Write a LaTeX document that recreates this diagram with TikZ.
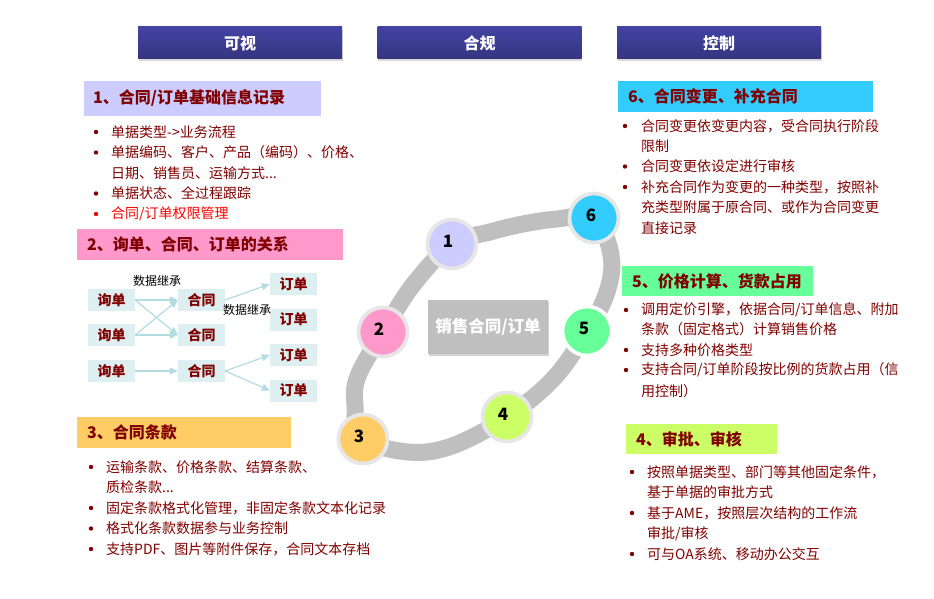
\documentclass[tikz,border=0pt]{standalone}
\usepackage{fontspec}
\setmainfont{Noto Sans CJK SC}
\usetikzlibrary{arrows.meta,shadows}
\definecolor{maroon}{HTML}{800000}
\definecolor{redtxt}{HTML}{FF0000}
\definecolor{hdrtop}{HTML}{4343A3}
\definecolor{hdrbot}{HTML}{35357F}
\definecolor{c1}{HTML}{CCCCFF}
\definecolor{c2}{HTML}{FF99CC}
\definecolor{c3}{HTML}{FFCC66}
\definecolor{c4}{HTML}{CCFF66}
\definecolor{c5}{HTML}{66FF99}
\definecolor{c6}{HTML}{33CCFF}
\definecolor{ringc}{HTML}{BFBFBF}
\definecolor{cborder}{HTML}{E6E6E6}
\definecolor{mfill}{HTML}{DDEFF1}
\definecolor{marrc}{HTML}{B3DCE2}
\tikzset{
  hdr/.style={rectangle, minimum width=204pt, minimum height=32pt, inner sep=0pt,
    top color=hdrtop, bottom color=hdrbot, text=white,
    font=\fontsize{16}{16}\selectfont\bfseries,
    drop shadow={shadow xshift=0.6pt, shadow yshift=-1.8pt, opacity=0.3}},
  tbox/.style={rectangle, inner sep=0pt},
  ttxt/.style={anchor=west, inner sep=0pt, text=maroon, font=\fontsize{16}{16}\selectfont\bfseries},
  btxt/.style={anchor=west, inner sep=0pt, text=maroon, font=\fontsize{14}{14}\selectfont},
  mbox/.style={rectangle, fill=mfill, minimum width=47pt, minimum height=22pt, inner sep=0pt,
    text=maroon, font=\fontsize{14}{14}\selectfont\bfseries},
  mlab/.style={inner sep=0pt, text=black, font=\fontsize{12}{12}\selectfont},
  marr/.style={draw=marrc, line width=1.2pt, -{Triangle[length=8pt,width=7pt]}},
  ring/.style={draw=ringc, line width=17pt},
  numc/.style={circle, minimum size=49pt, inner sep=0pt, line width=3.7pt, draw=cborder},
  numt/.style={inner sep=0pt, font=\fontsize{17}{17}\selectfont\bfseries, text=black},
  cbox/.style={rectangle, fill=ringc, minimum width=120pt, minimum height=54pt, inner sep=0pt,
    text=white, font=\fontsize{16.5}{16.5}\selectfont\bfseries,
    drop shadow={shadow xshift=1pt, shadow yshift=-2pt, opacity=0.35}},
  bdot/.style={fill=maroon},
}
\begin{document}
\begin{tikzpicture}[x=1pt,y=-1pt]
\useasboundingbox (0,0) rectangle (934,599);
\fill[white] (0,0) rectangle (934,599);

% headers
\node[hdr] (h1) at (240,43) {可视};
\node[hdr] (h2) at (479.5,43) {合规};
\node[hdr] (h3) at (719,43) {控制};

% ring
\draw[ring] plot[smooth cycle, tension=0.6] coordinates {
  (362,438) (355,405) (358,376) (383,332) (413,285) (452,244)
  (490,232) (523,224) (557,219) (594,218) (611,255) (607,292)
  (587,331) (554,378) (507,417) (452,446) (408,452)};

% centre box
\node[cbox] (ctr) at (488,327) {销售合同/订单};

% numbered circles
\node[numc, fill=c1] (k1) at (452,244) {};
\node[numc, fill=c2] (k2) at (383,332) {};
\node[numc, fill=c3] (k3) at (363,439) {};
\node[numc, fill=c4] (k4) at (507,417) {};
\node[numc, fill=c5, draw=white] (k5) at (587,331) {};
\node[numc, fill=c6] (k6) at (594,218) {};
\node[numt] (t1) at (448,241) {1};
\node[numt] (t2) at (379,329) {2};
\node[numt] (t3) at (359,436) {3};
\node[numt] (t4) at (503,414) {4};
\node[numt] (t5) at (584,328) {5};
\node[numt] (t6) at (591,215) {6};

% ---------- section 1
\node[tbox, fill=c1, minimum width=237pt, minimum height=35pt] (s1) at (202.5,98.5) {};
\node[ttxt] (s1t) at (93,98.5) {1、合同/订单基础信息记录};
\fill[bdot] (96,132) circle (2.2pt);
\node[btxt] (s1a) at (111,132) {单据类型->业务流程};
\fill[bdot] (96,152.5) circle (2.2pt);
\node[btxt] (s1b) at (111,152.5) {单据编码、客户、产品（编码）、价格、};
\node[btxt] (s1c) at (111,173) {日期、销售员、运输方式...};
\fill[bdot] (96,193.5) circle (2.2pt);
\node[btxt] (s1d) at (111,193.5) {单据状态、全过程跟踪};
\fill[redtxt] (96,214) circle (2.2pt);
\node[btxt, text=redtxt] (s1e) at (111,214) {合同/订单权限管理};

% ---------- section 2
\node[tbox, fill=c2, minimum width=266pt, minimum height=31pt] (s2) at (210,244.5) {};
\node[ttxt] (s2t) at (87,244.5) {2、询单、合同、订单的关系};

\node[mbox] (x1) at (111.5,300) {询单};
\node[mbox] (x2) at (111.5,335) {询单};
\node[mbox] (x3) at (111.5,371) {询单};
\node[mbox] (g1) at (201.5,300) {合同};
\node[mbox] (g2) at (201.5,335) {合同};
\node[mbox] (g3) at (201.5,371) {合同};
\node[mbox] (d1) at (293.5,284) {订单};
\node[mbox] (d2) at (293.5,319.5) {订单};
\node[mbox] (d3) at (293.5,355) {订单};
\node[mbox] (d4) at (293.5,390.5) {订单};
\draw[marr] (x1.east) -- (g1.west);
\draw[marr] (x1.east) -- (g2.west);
\draw[marr] (x2.east) -- (g1.west);
\draw[marr] (x2.east) -- (g2.west);
\draw[marr] (x3.east) -- (g3.west);
\draw[marr] (g1.east) -- (d1.west);
\draw[marr] (g3.east) -- (d3.west);
\draw[marr] (g3.east) -- (d4.west);
\node[mlab] (lab1) at (157,281) {数据继承};
\node[mlab] (lab2) at (247,310) {数据继承};

% ---------- section 3
\node[tbox, fill=c3, minimum width=214pt, minimum height=31pt] (s3) at (184,432.5) {};
\node[ttxt] (s3t) at (87,432.5) {3、合同条款};
\fill[bdot] (91,467) circle (2.2pt);
\node[btxt] (s3a) at (106,467) {运输条款、价格条款、结算条款、};
\node[btxt] (s3b) at (106,487.5) {质检条款...};
\fill[bdot] (91,508) circle (2.2pt);
\node[btxt] (s3c) at (106,508) {固定条款格式化管理，非固定条款文本化记录};
\fill[bdot] (91,528.5) circle (2.2pt);
\node[btxt] (s3d) at (106,528.5) {格式化条款数据参与业务控制};
\fill[bdot] (91,549) circle (2.2pt);
\node[btxt] (s3e) at (106,549) {支持PDF、图片等附件保存，合同文本存档};

% ---------- section 6
\node[tbox, fill=c6, minimum width=255pt, minimum height=31pt] (s6) at (745.5,96.5) {};
\node[ttxt] (s6t) at (628,96.5) {6、合同变更、补充合同};
\fill[bdot] (625,126) circle (2.2pt);
\node[btxt] (s6a) at (641,126) {合同变更依变更内容，受合同执行阶段};
\node[btxt] (s6b) at (641,146) {限制};
\fill[bdot] (625,166.5) circle (2.2pt);
\node[btxt] (s6c) at (641,166.5) {合同变更依设定进行审核};
\fill[bdot] (625,187) circle (2.2pt);
\node[btxt] (s6d) at (641,187) {补充合同作为变更的一种类型，按照补};
\node[btxt] (s6e) at (641,207.5) {充类型附属于原合同、或作为合同变更};
\node[btxt] (s6f) at (641,228) {直接记录};

% ---------- section 5
\node[tbox, fill=c5, minimum width=191pt, minimum height=30pt] (s5) at (717.5,281) {};
\node[ttxt] (s5t) at (632,281) {5、价格计算、货款占用};
\fill[bdot] (626,310) circle (2.2pt);
\node[btxt] (s5a) at (641,310) {调用定价引擎，依据合同/订单信息、附加};
\node[btxt] (s5b) at (641,329.5) {条款（固定格式）计算销售价格};
\fill[bdot] (626,350) circle (2.2pt);
\node[btxt] (s5c) at (641,350) {支持多种价格类型};
\fill[bdot] (626,370) circle (2.2pt);
\node[btxt] (s5d) at (641,370) {支持合同/订单阶段按比例的货款占用（信};
\node[btxt] (s5e) at (641,391) {用控制）};

% ---------- section 4
\node[tbox, fill=c4, minimum width=151pt, minimum height=30pt] (s4) at (701.5,439) {};
\node[ttxt] (s4t) at (636,439) {4、审批、审核};
\fill[bdot] (632,472) circle (2.2pt);
\node[btxt] (s4a) at (647,472) {按照单据类型、部门等其他固定条件，};
\node[btxt] (s4b) at (647,492) {基于单据的审批方式};
\fill[bdot] (632,513) circle (2.2pt);
\node[btxt] (s4c) at (647,513) {基于AME，按照层次结构的工作流};
\node[btxt] (s4d) at (647,534) {审批/审核};
\fill[bdot] (632,554) circle (2.2pt);
\node[btxt] (s4e) at (647,554) {可与OA系统、移动办公交互};
\end{tikzpicture}
\end{document}
